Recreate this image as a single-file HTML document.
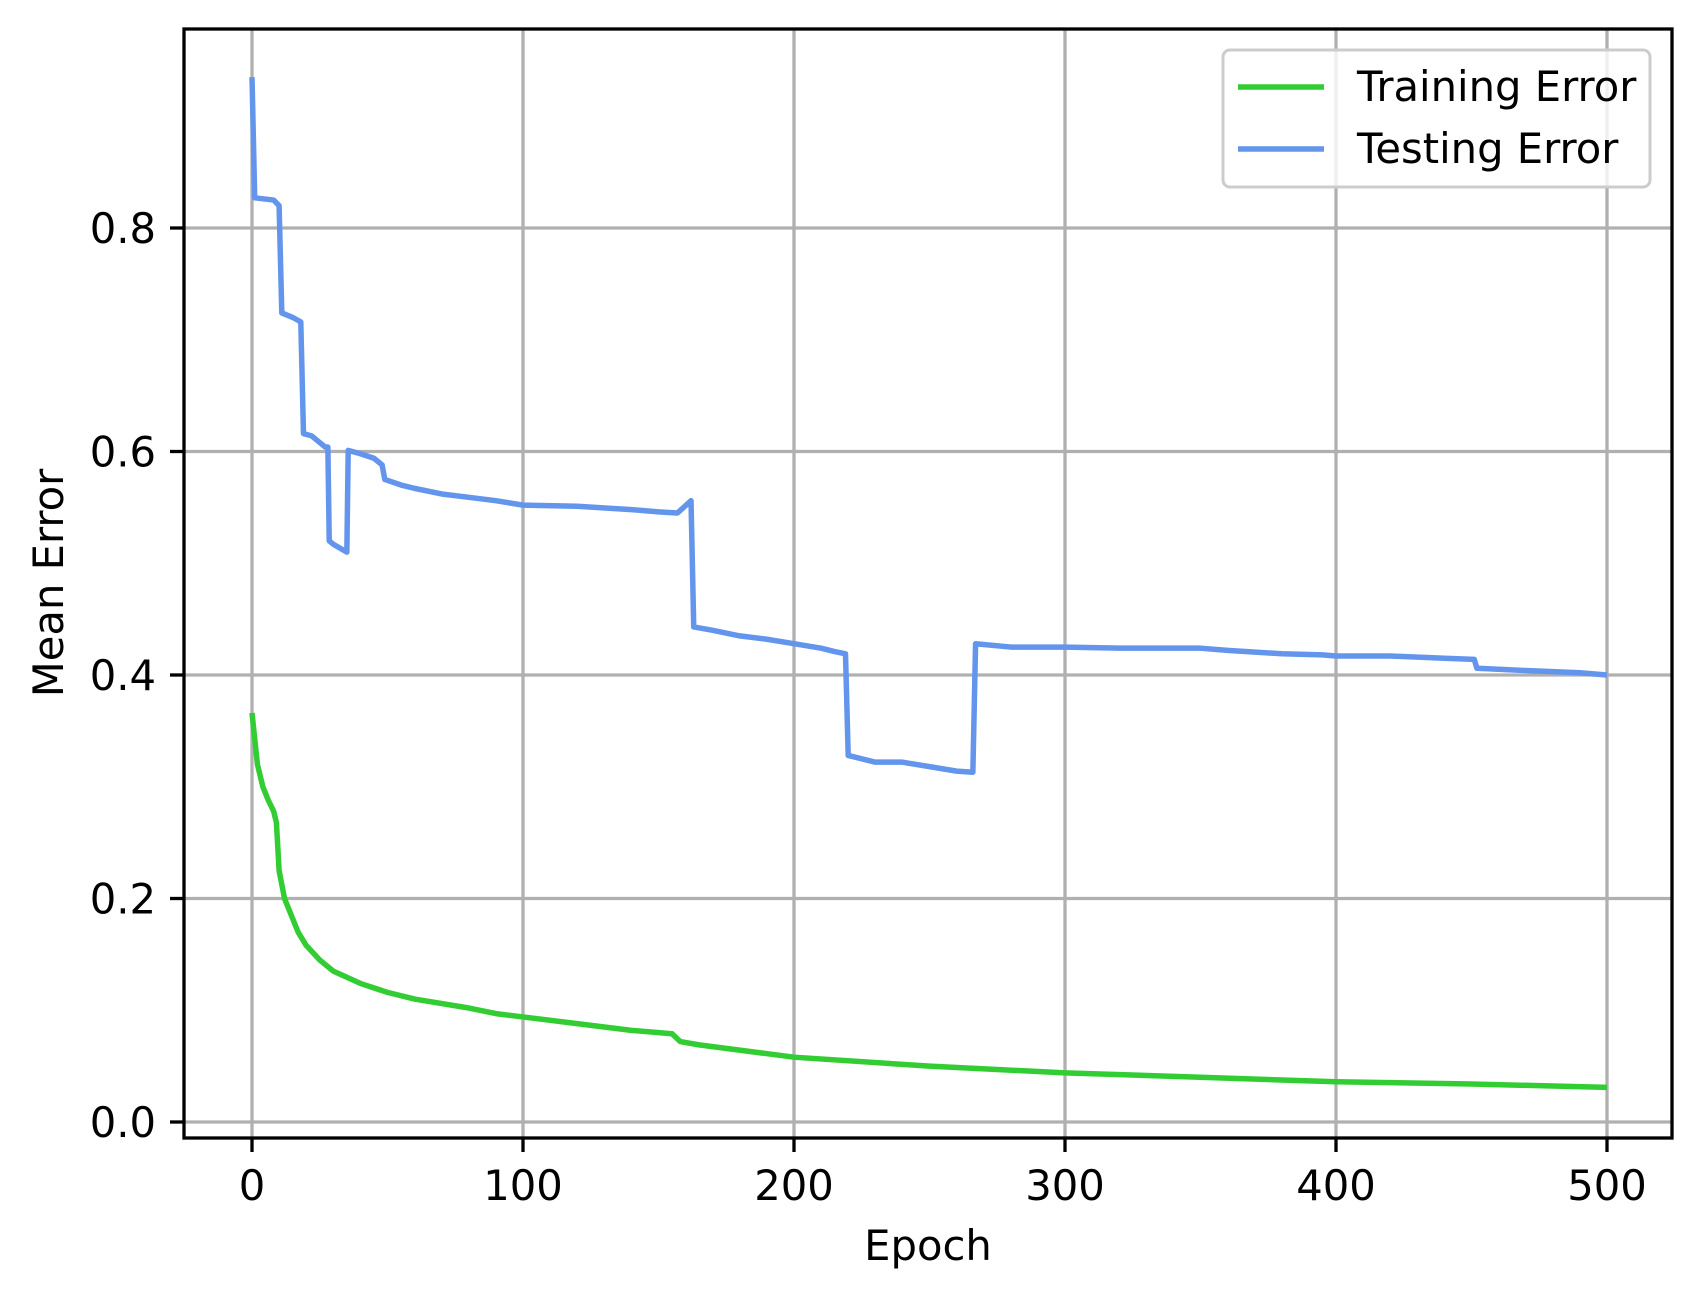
<!DOCTYPE html>
<html><head><meta charset="utf-8"><style>
body{margin:0;background:#fff}
svg text{font-family:"DejaVu Sans","Liberation Sans",sans-serif;fill:#000}
</style></head><body>
<svg id="chart" width="1702" height="1298" viewBox="0 0 1702 1298" xmlns="http://www.w3.org/2000/svg">
<rect width="1702" height="1298" fill="#fff"/>
<g id="grid"></g>
<g id="series"></g>
<rect x="184" y="29" width="1488" height="1109" fill="none" stroke="#000" stroke-width="3.3"/>
<g id="ticks"></g>
<text x="928" y="1260" font-size="41.7" text-anchor="middle">Epoch</text>
<text transform="translate(63,583) rotate(-90)" font-size="41.7" text-anchor="middle">Mean Error</text>
<g>
<rect x="1223" y="50" width="427" height="137" rx="7" fill="#fff" fill-opacity="0.8" stroke="#ccc" stroke-width="3"/>
<line x1="1238" y1="87" x2="1324" y2="87" stroke="#32cd32" stroke-width="5.5"/>
<text x="1357" y="101" font-size="41.7">Training Error</text>
<line x1="1238" y1="149" x2="1324" y2="149" stroke="#6495ed" stroke-width="5.5"/>
<text x="1357" y="163" font-size="41.7">Testing Error</text>
</g>
</svg>
<script>
const xTicks=[0,100,200,300,400,500];
const yTicks=[0.0,0.2,0.4,0.6,0.8];
const testEpochs=[0,1,8,10,11,15,18,19,22,25,27,28,28.5,30,35,35.5,40,45,48,49,55,60,70,80,90,100,120,140,150,157,162,163,170,180,190,200,210,215,219,220,230,240,250,260,266,267,280,300,320,350,360,380,395,400,420,440,451,452,470,490,500];
const testErr=[0.935,0.827,0.825,0.82,0.724,0.72,0.716,0.616,0.614,0.608,0.604,0.604,0.52,0.517,0.51,0.601,0.598,0.594,0.588,0.575,0.57,0.567,0.562,0.559,0.556,0.552,0.551,0.548,0.546,0.545,0.556,0.443,0.44,0.435,0.432,0.428,0.424,0.421,0.419,0.328,0.322,0.322,0.318,0.314,0.313,0.428,0.425,0.425,0.424,0.424,0.422,0.419,0.418,0.417,0.417,0.415,0.414,0.406,0.404,0.402,0.4];
const trainEpochs=[0,2,4,6,8,9,10,12,15,17,20,25,30,40,50,60,80,90,100,120,140,155,158,165,200,250,300,350,400,450,500];
const trainErr=[0.366,0.32,0.3,0.288,0.278,0.268,0.225,0.2,0.182,0.17,0.158,0.145,0.135,0.124,0.116,0.11,0.102,0.097,0.094,0.088,0.082,0.079,0.072,0.069,0.058,0.05,0.044,0.04,0.036,0.034,0.031];
const NS='http://www.w3.org/2000/svg';
const X=e=>252+e*2.71;
const Y=v=>1122-v*1117.5;
function mk(t,a,p){const el=document.createElementNS(NS,t);for(const k in a)el.setAttribute(k,a[k]);p.appendChild(el);return el;}
const grid=document.getElementById('grid'),ticks=document.getElementById('ticks'),series=document.getElementById('series');
xTicks.forEach(t=>{
 const g=mk('line',{x1:X(t),x2:X(t),y1:29,y2:1138,stroke:'#b0b0b0','stroke-width':3.3},grid);
 
 
 const k=mk('line',{x1:X(t),x2:X(t),y1:1138,y2:1152,stroke:'#000','stroke-width':3.3},ticks);
 
 
 const l=mk('text',{x:X(t),y:1200,'font-size':41.7,'text-anchor':'middle'},ticks);l.textContent=t;
 
 
});
yTicks.forEach(t=>{
 const g=mk('line',{x1:184,x2:1672,y1:Y(t),y2:Y(t),stroke:'#b0b0b0','stroke-width':3.3},grid);
 
 
 const k=mk('line',{x1:170,x2:184,y1:Y(t),y2:Y(t),stroke:'#000','stroke-width':3.3},ticks);
 
 
 const l=mk('text',{x:156,y:Y(t)+15,'font-size':41.7,'text-anchor':'end'},ticks);l.textContent=t.toFixed(1);
 
 
});
function line(xs,ys,c,name){
 const p=mk('polyline',{points:xs.map((e,i)=>X(e)+','+Y(ys[i])).join(' '),fill:'none',stroke:c,'stroke-width':5.5,'stroke-linejoin':'round'},series);
 
 
}
line(trainEpochs,trainErr,'#32cd32','training-error-line');
line(testEpochs,testErr,'#6495ed','testing-error-line');
</script>
</body></html>
